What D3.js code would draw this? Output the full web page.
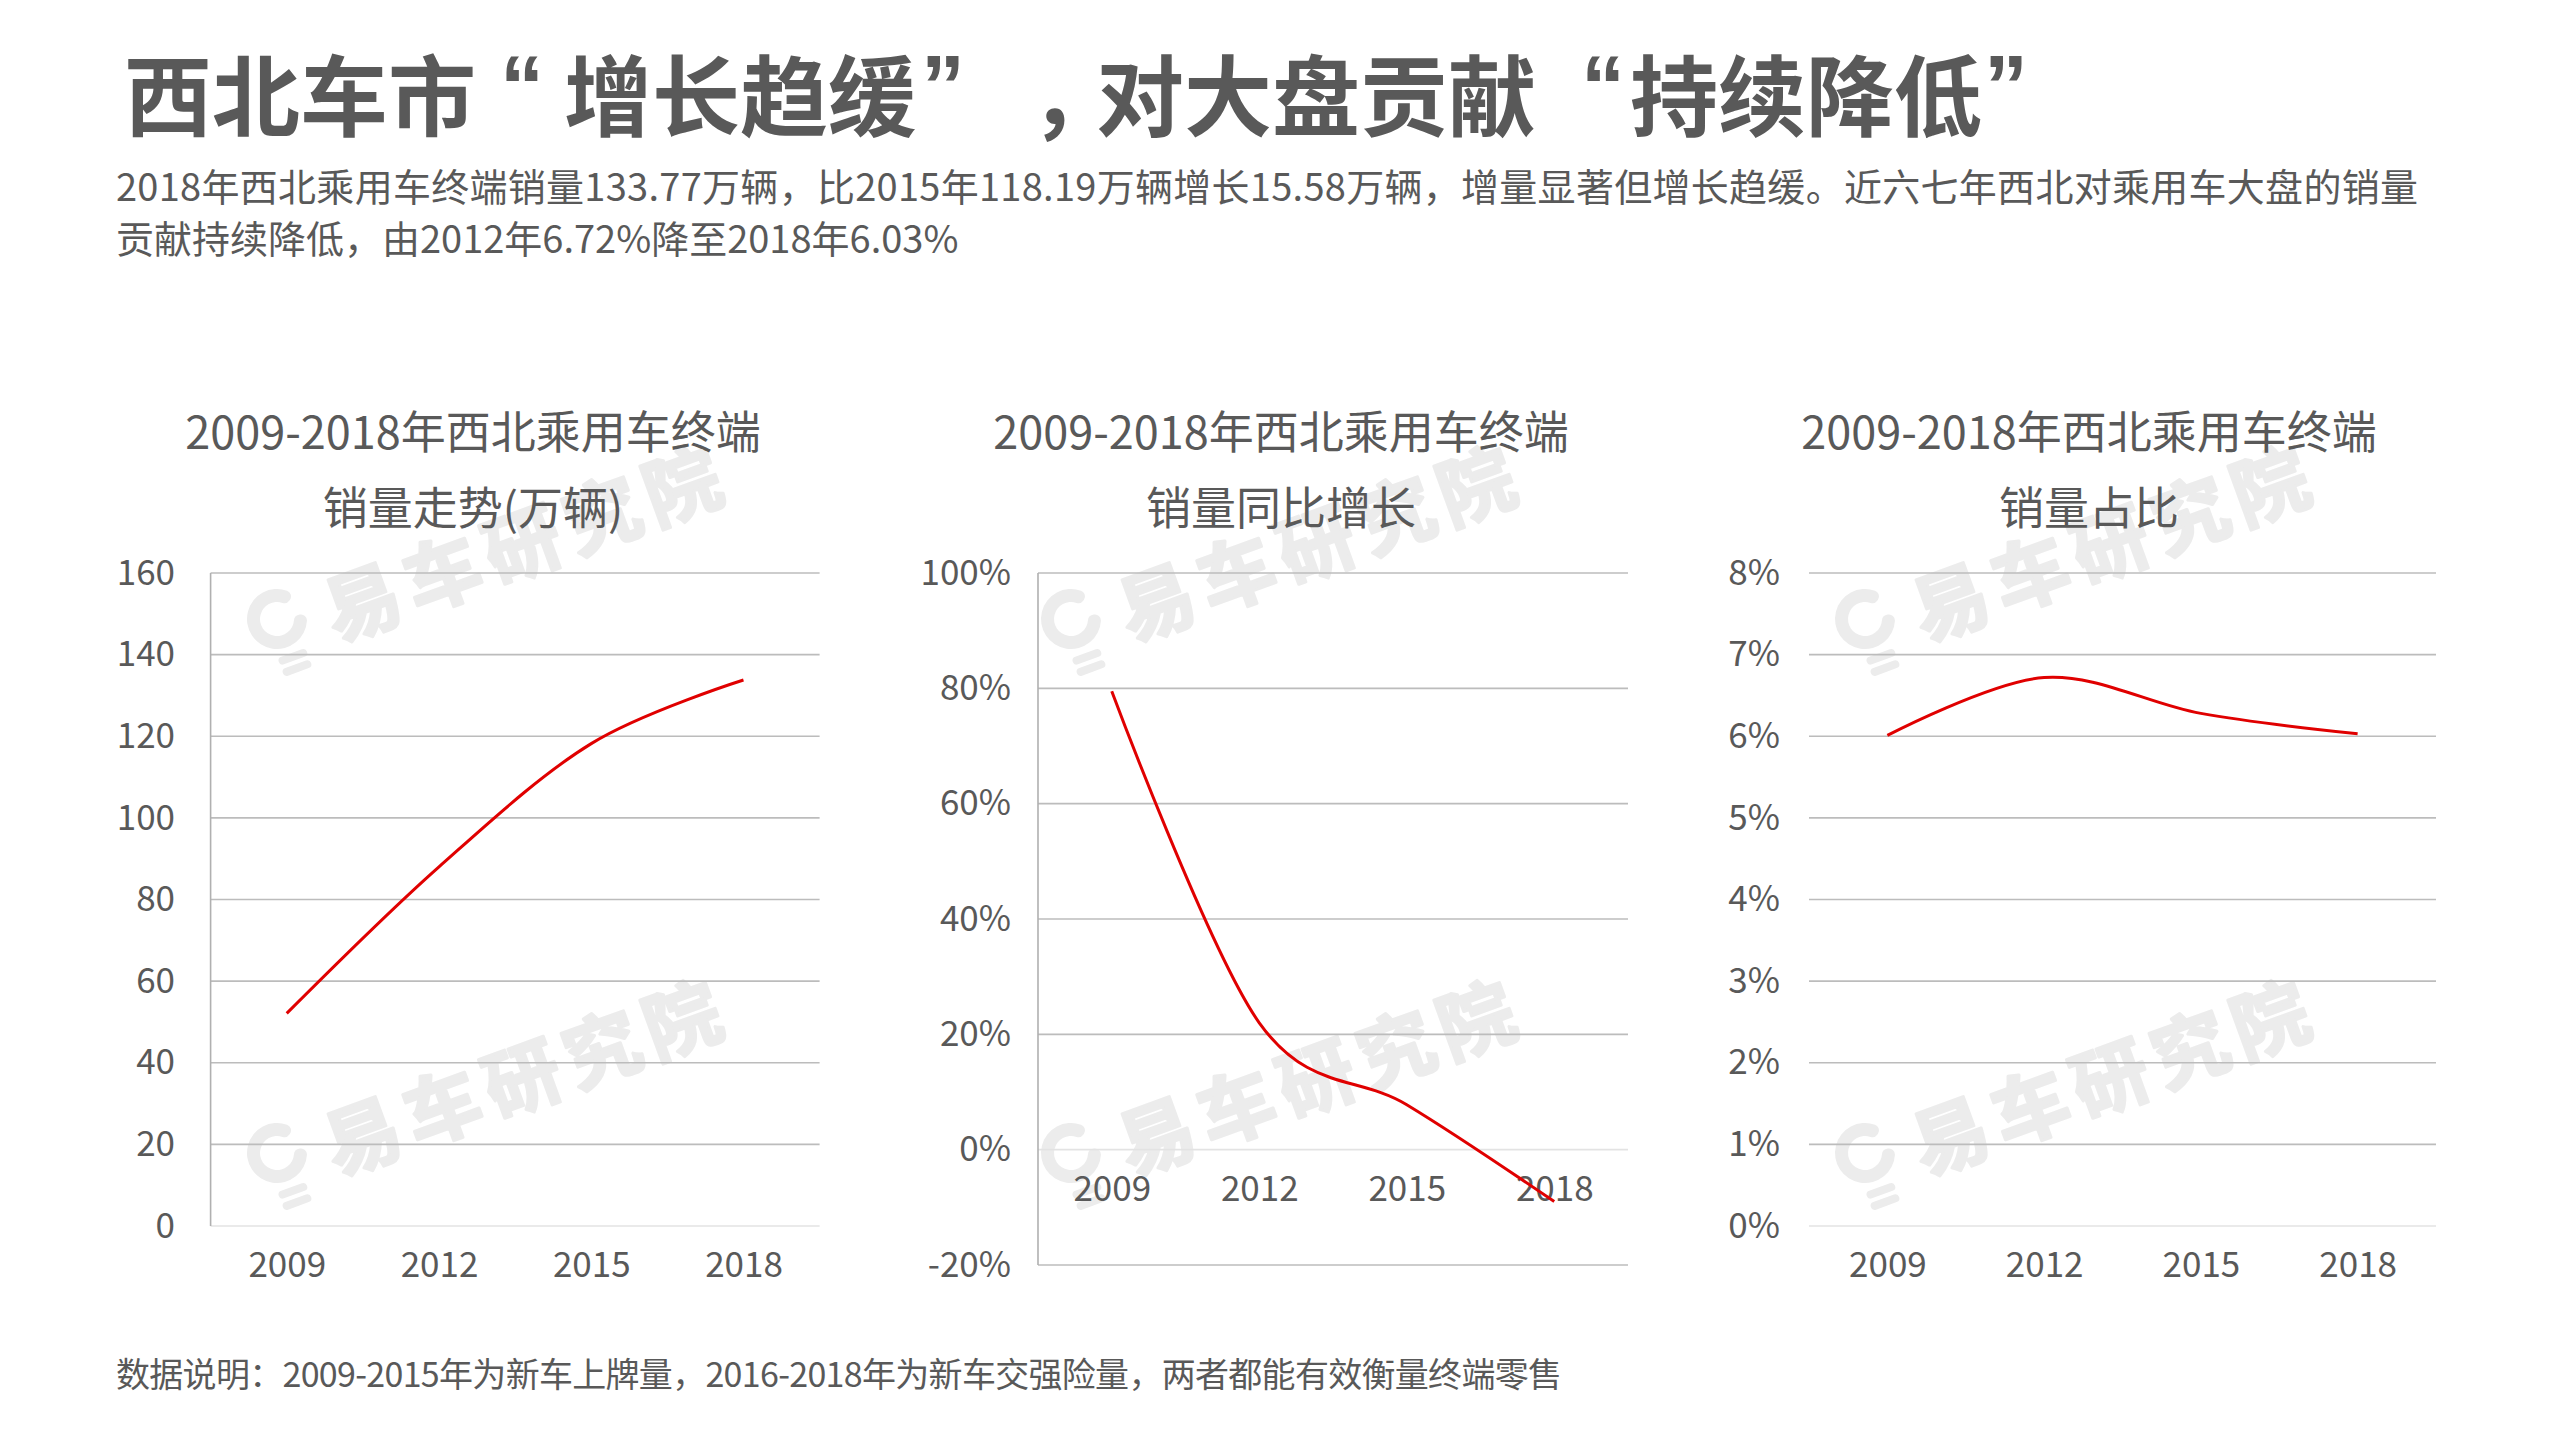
<!DOCTYPE html>
<html>
<head>
<meta charset="utf-8">
<script src="https://cdn.jsdelivr.net/npm/d3@7"></script>
<style>
  body { margin: 0; background: #fff; }
  svg text { font-family: "Noto Sans CJK SC", "Microsoft YaHei", sans-serif; }
</style>
</head>
<body>
<svg id="chart" width="2560" height="1440"></svg>
<script>
// --- Data ---
const years = ["2009", "2012", "2015", "2018"];
const salesValues = [52.1, 88.0, 118.19, 133.77];      // 万辆
const growthValues = [0.795, 0.22, 0.078, -0.09];     // 同比增长
const shareValues = [0.0601, 0.0672, 0.0628, 0.0603]; // 销量占比
const salesTicks = [0, 20, 40, 60, 80, 100, 120, 140, 160];
const growthTicks = [-0.2, 0, 0.2, 0.4, 0.6, 0.8, 1.0];
const shareTicks = [0, 0.01, 0.02, 0.03, 0.04, 0.05, 0.06, 0.07, 0.08];

// title pieces, placed one by one so the quotes keep their wide spacing
const titleParts = ["西北车市", "“", "增长趋缓", "”", "，", "对大盘贡献", "“", "持续降低", "”"];
const titlePartX = [124, 500, 564, 921, 1030, 1096, 1581, 1630, 1984];
const subLines = [
  "2018年西北乘用车终端销量133.77万辆，比2015年118.19万辆增长15.58万辆，增量显著但增长趋缓。近六七年西北对乘用车大盘的销量",
  "贡献持续降低，由2012年6.72%降至2018年6.03%"
];
const footNote = "数据说明：2009-2015年为新车上牌量，2016-2018年为新车交强险量，两者都能有效衡量终端零售";
const chartTitles = [
  ["2009-2018年西北乘用车终端", "销量走势(万辆)"],
  ["2009-2018年西北乘用车终端", "销量同比增长"],
  ["2009-2018年西北乘用车终端", "销量占比"]
];
const watermarkText = "易车研究院";

// --- Config ---
const textColor = "#595959";
const gridColor = "#bcbcbc";
const lineColor = "#e00000";
const pct = d => Math.round(d * 100) + "%";
const isQuote = s => s === "“" || s === "”";

const svg = d3.select("#chart");

// Header: one text, quotes set in a Latin face so they stay narrow
const title = svg.append("text")
  .style("font-size", "88px").style("font-weight", "bold")
  .attr("fill", textColor);
title.selectAll("tspan")
  .data(titleParts)
  .enter().append("tspan")
  .attr("x", (d, i) => titlePartX[i])
  .attr("y", d => isQuote(d) ? 116 : 129)
  .style("font-family", d => isQuote(d) ? "'Liberation Sans', Arial, sans-serif" : null)
  .text(d => d);

svg.append("text")
  .attr("x", 116).attr("y", 201)
  .attr("textLength", 2302).attr("lengthAdjust", "spacing")
  .style("font-size", "38px").attr("fill", textColor)
  .text(subLines[0]);
svg.append("text")
  .attr("x", 116).attr("y", 253)
  .style("font-size", "38px").attr("fill", textColor)
  .text(subLines[1]);

// Footer
svg.append("text")
  .attr("x", 116).attr("y", 1387)
  .attr("textLength", 1446).attr("lengthAdjust", "spacing")
  .style("font-size", "34px").attr("fill", textColor)
  .text(footNote);

// --- Watermarks ---
function drawWatermark(cx, cy) {
  const g = svg.append("g")
    .attr("transform", `translate(${cx},${cy}) rotate(-20)`)
    .attr("fill", "#ececec").attr("stroke", "#ececec");
  const ring = d3.arc().innerRadius(17).outerRadius(30)
    .startAngle(Math.PI * 0.55).endAngle(Math.PI * 2.3).cornerRadius(6);
  g.append("path").attr("d", ring()).attr("stroke", "none");
  [41, 53].forEach(y => {
    g.append("line")
      .attr("x1", -9).attr("x2", 13).attr("y1", y).attr("y2", y)
      .attr("stroke-width", 8).attr("stroke-linecap", "round");
  });
  g.append("text")
    .attr("x", 48).attr("y", 42)
    .style("font-size", "76px").style("font-weight", "bold")
    .style("letter-spacing", "9px")
    .attr("stroke-width", 3).attr("stroke-linejoin", "round")
    .text(watermarkText);
}
[277, 1071, 1865].forEach(x => [619, 1153].forEach(y => drawWatermark(x, y)));

// --- Charts ---
const charts = [
  { values: salesValues, ticks: salesTicks, domain: [0, 160], fmt: d => d,
    left: 210.6, right: 819.6, top: 573, bottom: 1226, labelX: 175, titleX: 473, yAxisLine: true },
  { values: growthValues, ticks: growthTicks, domain: [-0.2, 1.0], fmt: pct,
    left: 1038, right: 1628, top: 573, bottom: 1265, labelX: 1011, titleX: 1281, yAxisLine: true },
  { values: shareValues, ticks: shareTicks, domain: [0, 0.08], fmt: pct,
    left: 1809, right: 2436, top: 573, bottom: 1226, labelX: 1780, titleX: 2089, yAxisLine: false }
];

function drawChart(c, i) {
  const x = d3.scalePoint().domain(years).range([c.left, c.right]).padding(0.5);
  const y = d3.scaleLinear().domain(c.domain).range([c.bottom, c.top]);
  const g = svg.append("g");

  // Title
  chartTitles[i].forEach((t, k) => {
    g.append("text")
      .attr("x", c.titleX).attr("y", 449 + k * 76)
      .attr("text-anchor", "middle")
      .style("font-size", "45px").attr("fill", textColor)
      .text(t);
  });

  // Gridlines (axis line at zero drawn lighter)
  const zero = y(0);
  g.selectAll(".grid")
    .data(c.ticks.filter(t => t !== 0))
    .enter().append("line")
    .attr("x1", c.left).attr("x2", c.right)
    .attr("y1", d => y(d)).attr("y2", d => y(d))
    .attr("stroke", gridColor).attr("stroke-width", 1.6);

  g.append("line")
    .attr("x1", c.left).attr("x2", c.right)
    .attr("y1", zero).attr("y2", zero)
    .attr("stroke", "#e3e3e3").attr("stroke-width", 1.6);

  if (c.yAxisLine) {
    g.append("line")
      .attr("x1", c.left).attr("x2", c.left)
      .attr("y1", c.top).attr("y2", c.bottom)
      .attr("stroke", "#b0b0b0").attr("stroke-width", 1.6);
  }

  // Y axis labels
  const yAxis = g.append("g")
    .attr("transform", `translate(${c.labelX},0)`)
    .call(d3.axisLeft(y).tickValues(c.ticks).tickFormat(c.fmt).tickSize(0).tickPadding(0));
  yAxis.select(".domain").remove();
  yAxis.selectAll("text")
    .attr("fill", textColor)
    .style("font-size", "35px")
    .style("font-family", "'Noto Sans CJK SC', sans-serif");

  // X axis labels (next to zero line)
  const xAxis = g.append("g")
    .attr("transform", `translate(0,${zero})`)
    .call(d3.axisBottom(x).tickSize(0).tickPadding(26));
  xAxis.select(".domain").remove();
  xAxis.selectAll("text")
    .attr("fill", textColor)
    .style("font-size", "35px")
    .style("font-family", "'Noto Sans CJK SC', sans-serif");

  // Smoothed line
  const line = d3.line()
    .x((d, j) => x(years[j]))
    .y(d => y(d))
    .curve(d3.curveCatmullRom.alpha(0));
  g.append("path")
    .datum(c.values)
    .attr("fill", "none")
    .attr("stroke", lineColor)
    .attr("stroke-width", 3)
    .attr("d", line);
}

charts.forEach(drawChart);
</script>
</body>
</html>
